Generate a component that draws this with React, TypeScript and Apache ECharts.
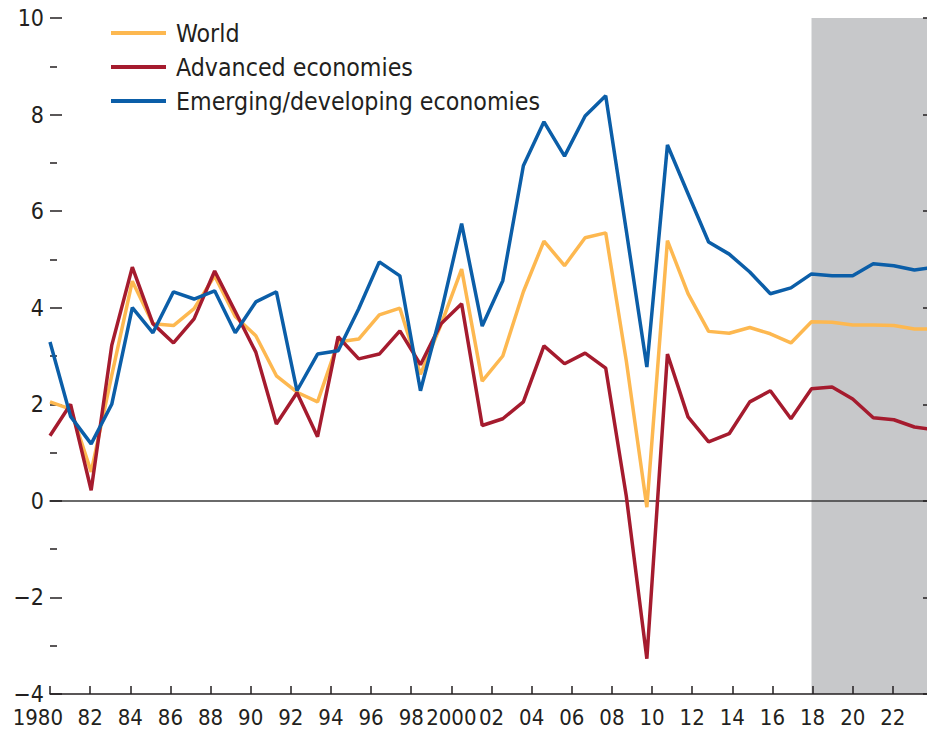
import React, { useEffect, useRef } from "react";
import * as echarts from "echarts";

const YEARS = [
  1980, 1981, 1982, 1983, 1984, 1985, 1986, 1987, 1988, 1989,
  1990, 1991, 1992, 1993, 1994, 1995, 1996, 1997, 1998, 1999,
  2000, 2001, 2002, 2003, 2004, 2005, 2006, 2007, 2008, 2009,
  2010, 2011, 2012, 2013, 2014, 2015, 2016, 2017, 2018, 2019,
  2020, 2021, 2022, 2023,
];

const WORLD = [
  2.05, 1.9, 0.6, 2.6, 4.55, 3.67, 3.63, 3.98, 4.66, 3.82,
  3.42, 2.59, 2.25, 2.05, 3.29, 3.35, 3.85, 3.99, 2.62, 3.65,
  4.8, 2.48, 3.0, 4.33, 5.38, 4.87, 5.45, 5.55, 2.9, -0.13,
  5.39, 4.29, 3.51, 3.47, 3.59, 3.46, 3.27, 3.71, 3.7, 3.64,
  3.64, 3.63, 3.56, 3.56,
];

const ADVANCED = [
  1.35, 2.0, 0.22, 3.22, 4.84, 3.67, 3.27, 3.77, 4.76, 3.92,
  3.08, 1.59, 2.24, 1.33, 3.4, 2.94, 3.04, 3.52, 2.82, 3.67,
  4.08, 1.56, 1.7, 2.05, 3.21, 2.84, 3.06, 2.75, 0.1, -3.27,
  3.04, 1.74, 1.22, 1.39, 2.05, 2.28, 1.7, 2.32, 2.36, 2.11,
  1.72, 1.68, 1.53, 1.47,
];

const EMERGING = [
  3.29, 1.75, 1.18, 2.0, 4.0, 3.48, 4.33, 4.18, 4.35, 3.48,
  4.12, 4.33, 2.28, 3.04, 3.11, 3.98, 4.95, 4.66, 2.28, 3.9,
  5.74, 3.62, 4.56, 6.94, 7.85, 7.14, 7.97, 8.39, 5.6, 2.77,
  7.37, 6.36, 5.36, 5.11, 4.74, 4.29, 4.41, 4.7, 4.66, 4.66,
  4.91, 4.87, 4.78, 4.84,
];

const TICK_LABELS = [
  "1980", "82", "84", "86", "88", "90", "92", "94", "96", "98",
  "2000", "02", "04", "06", "08", "10", "12", "14", "16", "18",
  "20", "22",
];

const SERIES_NAMES = ["World", "Advanced economies", "Emerging/developing economies"];
const PROJECTION_START = 2017;

const FONT = "'DejaVu Sans Condensed', 'Liberation Sans', sans-serif";
const TEXT = "#231f20";
const COLORS = ["#fdb850", "#a51b2e", "#0b5ea8"];

export default function App() {
  const ref = useRef<HTMLDivElement>(null);

  useEffect(() => {
    if (!ref.current) return;
    const chart = echarts.init(ref.current, undefined, { renderer: "svg" });
    const toPairs = (vals: number[]) => YEARS.map((y, i) => [y, vals[i]]);
    const allVals = [WORLD, ADVANCED, EMERGING];

    chart.setOption({
      animation: false,
      backgroundColor: "#ffffff",
      grid: { left: 50, right: 5, top: 18, bottom: 38, containLabel: false },
      legend: {
        data: SERIES_NAMES,
        orient: "vertical",
        left: 111,
        top: 16,
        padding: 0,
        itemGap: 0,
        icon: "rect",
        itemWidth: 55,
        itemHeight: 4,
        selectedMode: false,
        textStyle: {
          fontFamily: FONT,
          fontSize: 24.7,
          lineHeight: 34,
          color: TEXT,
          padding: [0, 0, 0, 5],
        },
      },
      xAxis: [
        {
          type: "value",
          min: 1980,
          max: 2024.1,
          interval: 2,
          position: "bottom",
          z: 2,
          axisLine: { show: true, onZero: false, lineStyle: { color: TEXT, width: 1.5 } },
          axisTick: { show: true, inside: true, length: 8, lineStyle: { color: TEXT, width: 1.5 } },
          splitLine: { show: false },
          axisLabel: {
            show: true,
            margin: 11,
            color: TEXT,
            fontFamily: FONT,
            fontSize: 22,
            lineHeight: 24,
            showMinLabel: true,
            showMaxLabel: false,
            hideOverlap: false,
            formatter: (v: number) => {
              const i = Math.round((v - 1980) / 2);
              const s = TICK_LABELS[i] ?? "";
              if (i === 0) return "{first|" + s + "}";
              return s;
            },
            rich: {
              first: {
                fontFamily: FONT,
                fontSize: 22,
                lineHeight: 24,
                color: TEXT,
                width: 26,
                align: "right",
              },
            },
          },
        },
        {
          type: "value",
          min: 1980,
          max: 2023,
          position: "bottom",
          z: 2,
          axisLine: { show: true, onZero: true, lineStyle: { color: "#3a3a3a", width: 1.5 } },
          axisTick: { show: false },
          axisLabel: { show: false },
          splitLine: { show: false },
        },
      ],
      yAxis: [
        {
          type: "value",
          min: -4,
          max: 10,
          interval: 2,
          position: "left",
          z: 2,
          axisLine: { show: false },
          axisTick: { show: true, inside: true, length: 12, lineStyle: { color: TEXT, width: 1.5 } },
          minorTick: { show: true, splitNumber: 2, length: 7, lineStyle: { color: TEXT, width: 1.5 } },
          splitLine: { show: false },
          axisLabel: {
            margin: 6,
            color: TEXT,
            fontFamily: FONT,
            fontSize: 23,
            lineHeight: 20,
            showMinLabel: true,
            showMaxLabel: true,
            formatter: (v: number) => (v < 0 ? "\u2212" + Math.abs(v) : String(v)),
          },
        },
        {
          type: "value",
          min: -4,
          max: 10,
          interval: 2,
          position: "right",
          z: 2,
          axisLine: { show: false },
          axisTick: { show: true, inside: true, length: 12, lineStyle: { color: TEXT, width: 1.5 } },
          axisLabel: { show: false },
          splitLine: { show: false },
        },
      ],
      series: [
        {
          name: "shade",
          type: "line",
          xAxisIndex: 1,
          yAxisIndex: 0,
          data: [],
          z: 0,
          silent: true,
          markArea: {
            silent: true,
            z: 0,
            itemStyle: { color: "#c7c8ca" },
            data: [[{ xAxis: PROJECTION_START, yAxis: -4 }, { xAxis: 2023, yAxis: 10 }]],
          },
        },
        ...SERIES_NAMES.map((name, k) => ({
          name,
          type: "line",
          xAxisIndex: 1,
          yAxisIndex: 0,
          z: 3,
          symbol: "none",
          showSymbol: false,
          data: toPairs(allVals[k]),
          color: COLORS[k],
          itemStyle: { color: COLORS[k] },
          lineStyle: { color: COLORS[k], width: 3.5 },
        })),
      ],
    });

    return () => chart.dispose();
  }, []);

  return (
    <div
      style={{
        position: "absolute",
        left: 0,
        top: 0,
        width: 927,
        height: 732,
        overflow: "hidden",
        background: "#fff",
      }}
    >
      <div ref={ref} style={{ width: 940, height: 732 }} />
    </div>
  );
}
